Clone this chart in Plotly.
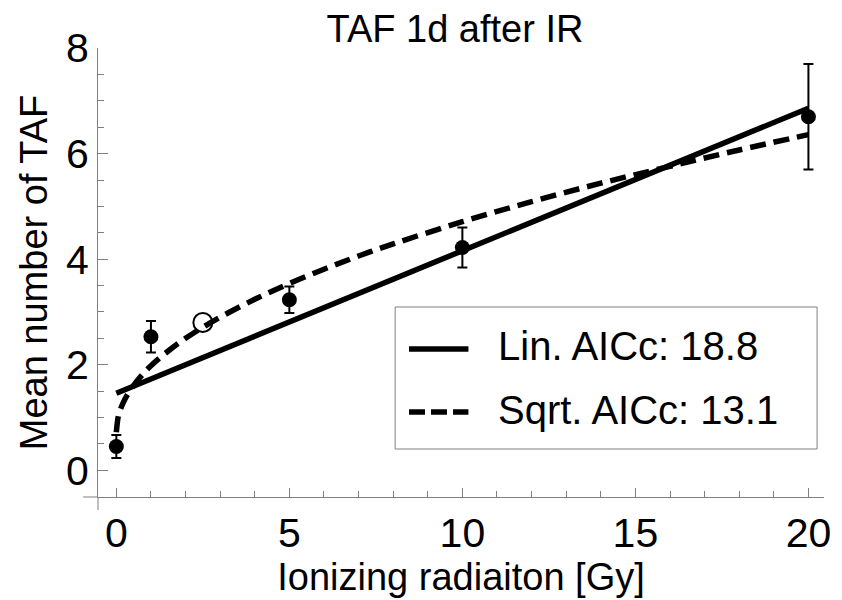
import plotly.graph_objects as go

# ---- data ----
dose = [0, 1, 5, 10, 20]
taf_mean = [0.45, 2.53, 3.23, 4.22, 6.70]
taf_err = [0.22, 0.30, 0.25, 0.38, 1.00]

open_dose = [2.5]
open_mean = [2.80]

lin_x = [0, 20]
lin_y = [1.46, 6.86]

sqrt_x = [0, 0.05, 0.1, 0.2, 0.3, 0.5, 0.75, 1, 1.5, 2, 2.5, 3, 4, 5, 6, 7, 8, 10, 12, 14, 16, 18, 20]
sqrt_y = [0.72, 1.00, 1.12, 1.28, 1.41, 1.61, 1.81, 1.98, 2.26, 2.50, 2.71, 2.90, 3.24, 3.54, 3.81,
          4.06, 4.29, 4.71, 5.09, 5.44, 5.76, 6.07, 6.36]

legend_labels = ["Lin. AICc: 18.8", "Sqrt. AICc: 13.1"]
title_text = "TAF 1d after IR"
x_title = "Ionizing radiaiton [Gy]"
y_title = "Mean number of TAF"

FONT = "Liberation Sans, Arial, sans-serif"
AX = "#808080"

fig = go.Figure()
fig.add_trace(go.Scatter(x=lin_x, y=lin_y, mode="lines",
                         line=dict(color="black", width=5.5), showlegend=False))
fig.add_trace(go.Scatter(x=sqrt_x, y=sqrt_y, mode="lines",
                         line=dict(color="black", width=5.5, dash="16px,8px", shape="spline"),
                         showlegend=False))
fig.add_trace(go.Scatter(x=dose, y=taf_mean, mode="markers",
                         marker=dict(color="black", size=15),
                         error_y=dict(type="data", array=taf_err, color="black", thickness=2, width=5),
                         showlegend=False))
fig.add_trace(go.Scatter(x=open_dose, y=open_mean, mode="markers",
                         marker=dict(symbol="circle-open", color="black", size=19, line=dict(width=2)),
                         showlegend=False))

fig.update_xaxes(range=[-0.53, 20.45], showline=True, linecolor=AX, linewidth=1,
                 ticks="inside", ticklen=9, tickwidth=1, tickcolor=AX,
                 tick0=0, dtick=5, showgrid=False, zeroline=False,
                 minor=dict(tickvals=[1, 2, 3, 4, 6, 7, 8, 9, 11, 12, 13, 14, 16, 17, 18, 19],
                            ticks="inside", ticklen=6, tickcolor=AX, showgrid=False),
                 tickfont=dict(family=FONT, size=41, color="black"),
                 title=dict(text=x_title, font=dict(family=FONT, size=38, color="black"), standoff=4))
fig.update_yaxes(range=[-0.507, 8.002], showline=True, linecolor=AX, linewidth=1,
                 ticks="inside", ticklen=10, tickwidth=1, tickcolor=AX,
                 tick0=0, dtick=2, showgrid=False, zeroline=False,
                 minor=dict(tickvals=[0.5, 1, 1.5, 2.5, 3, 3.5, 4.5, 5, 5.5, 6.5, 7, 7.5],
                            ticks="inside", ticklen=6, tickcolor=AX, showgrid=False),
                 tickfont=dict(family=FONT, size=41, color="black"),
                 title=dict(text=y_title, font=dict(family=FONT, size=38, color="black"), standoff=6))

W, H = 842, 600
L, R, T, B = 98, 11, 48, 103
pw, ph = W - L - R, H - T - B

def px(xp):
    return (xp - L) / pw

def py(yp):
    return (H - B - yp) / ph

shapes = [
    # axis overhangs
    dict(type="line", xref="paper", yref="paper", x0=px(83), x1=0, y0=0, y1=0,
         line=dict(color=AX, width=1)),
    dict(type="line", xref="paper", yref="paper", x0=0, x1=0, y0=py(510), y1=0,
         line=dict(color=AX, width=1)),
    # legend box
    dict(type="rect", xref="paper", yref="paper", x0=px(398), x1=px(824), y0=py(449), y1=py(307),
         line=dict(color=AX, width=1), fillcolor="white", layer="above"),
    dict(type="line", xref="paper", yref="paper", x0=px(412), x1=px(472), y0=py(349), y1=py(349),
         line=dict(color="black", width=5.5), layer="above"),
    dict(type="line", xref="paper", yref="paper", x0=px(412), x1=px(472), y0=py(412), y1=py(412),
         line=dict(color="black", width=5.5, dash="16px,6px"), layer="above"),
]
annotations = [
    dict(text=legend_labels[0], xref="paper", yref="paper", x=px(500), y=py(346),
         xanchor="left", yanchor="middle", showarrow=False,
         font=dict(family=FONT, size=40, color="black")),
    dict(text=legend_labels[1], xref="paper", yref="paper", x=px(500), y=py(410),
         xanchor="left", yanchor="middle", showarrow=False,
         font=dict(family=FONT, size=40, color="black")),
]

fig.update_layout(
    width=W, height=H, autosize=False,
    margin=dict(l=L, r=R, t=T, b=B, pad=0),
    paper_bgcolor="white", plot_bgcolor="white",
    title=dict(text=title_text, xref="container", yref="container",
               x=455 / W, y=1 - 29 / H, xanchor="center", yanchor="middle",
               font=dict(family=FONT, size=38, color="black")),
    shapes=shapes, annotations=annotations,
)

fig.write_html("out.html")
